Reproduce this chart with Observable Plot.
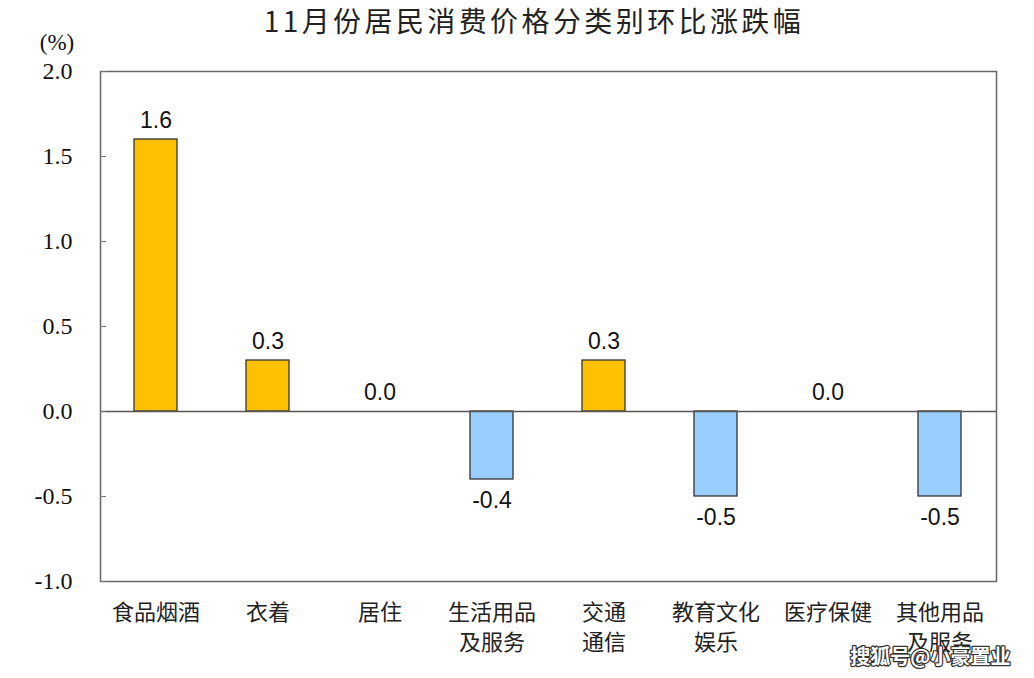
<!DOCTYPE html>
<html>
<head>
<meta charset="utf-8">
<script src="https://cdn.jsdelivr.net/npm/d3@7"></script>
<script src="https://cdn.jsdelivr.net/npm/@observablehq/plot@0.6"></script>
<style>
  html, body { margin: 0; padding: 0; background: #fff; }
  #wrap { width: 1034px; height: 678px; position: relative; }
  #title { height: 40px; line-height: 40px; text-align: center; font-family: "Noto Sans CJK SC", sans-serif; font-size: 28px; letter-spacing: 3.4px; color: #222; padding-left: 34px; box-sizing: border-box; }
  #unit { position: absolute; left: 27px; top: 30px; width: 60px; height: 26px; line-height: 26px; text-align: center; font-family: "Liberation Serif", "Times New Roman", serif; font-size: 23px; color: #111; z-index: 2; }
  svg { display: block; }
</style>
</head>
<body>
<div id="wrap">
  <div id="title">11月份居民消费价格分类别环比涨跌幅</div>
  <div id="unit"></div>
  <div id="chart"></div>
</div>
<script>
const categories = ["食品烟酒", "衣着", "居住", "生活用品及服务", "交通通信", "教育文化娱乐", "医疗保健", "其他用品及服务"];
const tickLabels = ["食品烟酒", "衣着", "居住", "生活用品\n及服务", "交通\n通信", "教育文化\n娱乐", "医疗保健", "其他用品\n及服务"];
const values = [1.6, 0.3, 0.0, -0.4, 0.3, -0.5, 0.0, -0.5];
const yTicks = [-1.0, -0.5, 0.0, 0.5, 1.0, 1.5, 2.0];
const unitLabel = "(%)";
const watermark = ["搜狐号@小豪置业"];

document.getElementById("unit").textContent = unitLabel;

const data = categories.map((c, i) => ({ cat: c, label: tickLabels[i], value: values[i] }));
const labelOf = new Map(data.map(d => [d.cat, d.label]));

const chart = Plot.plot({
  width: 1034,
  height: 638,
  marginLeft: 100,
  marginRight: 38,
  marginTop: 31,
  marginBottom: 97,
  style: { fontFamily: "'Liberation Sans', Arial, sans-serif", color: "#222", background: "#fff" },
  x: { domain: categories, paddingInner: 0.616, paddingOuter: 0.308, label: null },
  y: { domain: [-1, 2], label: null },
  color: { type: "identity" },
  marks: [
    Plot.barY(data.filter(d => d.value !== 0), {
      x: "cat", y: "value",
      fill: d => d.value >= 0 ? "#FFC000" : "#99CCFF",
      stroke: "#333", strokeWidth: 1.3
    }),
    Plot.ruleY([0], { stroke: "#555", strokeWidth: 1.3 }),
    Plot.frame({ stroke: "#666", strokeWidth: 1.5 }),
    Plot.text(data.filter(d => d.value >= 0), {
      x: "cat", y: "value", text: d => d.value.toFixed(1),
      dy: -19, fontSize: 23, fill: "#111"
    }),
    Plot.text(data.filter(d => d.value < 0), {
      x: "cat", y: "value", text: d => d.value.toFixed(1),
      dy: 21, fontSize: 23, fill: "#111"
    }),
    Plot.axisX({
      tickSize: 0, tickPadding: 17, fontSize: 22, lineHeight: 1.36,
      tickFormat: c => labelOf.get(c),
      fontFamily: "'Noto Sans CJK SC', sans-serif",
      letterSpacing: "1.8px", fill: "#222"
    }),
    Plot.axisY({
      ticks: yTicks, tickSize: 0, tickPadding: 28, fontSize: 24,
      tickFormat: d => d.toFixed(1),
      fontFamily: "'Liberation Serif', 'Times New Roman', serif", fill: "#111"
    }),
    Plot.axisY({
      ticks: yTicks, tickSize: 6, dx: 6, tickFormat: () => "", stroke: "#777"
    }),
    Plot.text(watermark, {
      frameAnchor: "bottom-right", textAnchor: "end", lineAnchor: "middle",
      dx: 14, dy: 76,
      fontSize: 20, fontWeight: "bold", fill: "#fff", stroke: "#333", strokeWidth: 2.5,
      paintOrder: "stroke", fontFamily: "'Noto Sans CJK SC', sans-serif"
    })
  ]
});
document.getElementById("chart").appendChild(chart);
</script>
</body>
</html>
